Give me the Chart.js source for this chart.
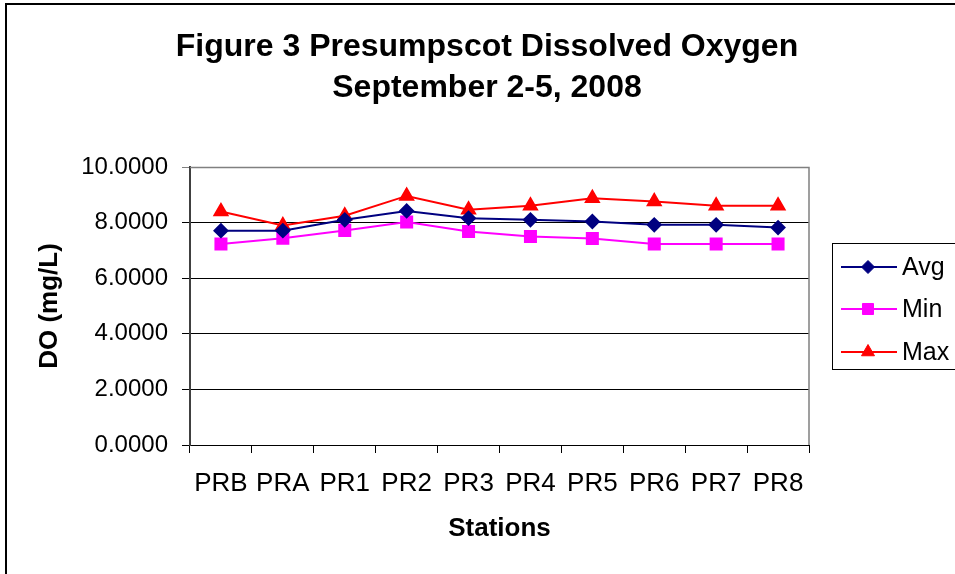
<!DOCTYPE html>
<html>
<head>
<meta charset="utf-8">
<script src="https://cdn.jsdelivr.net/npm/chart.js@4/dist/chart.umd.min.js"></script>
<style>
  html, body { margin: 0; padding: 0; background: #fff; }
  #wrap { position: relative; width: 955px; height: 574px; }
</style>
</head>
<body>
<div id="wrap"><canvas id="c" width="955" height="574"></canvas></div>
<script>
const categories = ['PRB', 'PRA', 'PR1', 'PR2', 'PR3', 'PR4', 'PR5', 'PR6', 'PR7', 'PR8'];
const avgValues = [7.71, 7.71, 8.10, 8.42, 8.16, 8.10, 8.04, 7.92, 7.92, 7.82];
const minValues = [7.23, 7.44, 7.72, 8.02, 7.68, 7.50, 7.43, 7.23, 7.23, 7.23];
const maxValues = [8.40, 7.90, 8.25, 8.96, 8.46, 8.61, 8.88, 8.76, 8.61, 8.61];
const seriesNames = ['Avg', 'Min', 'Max'];
const yTickValues = [0, 2, 4, 6, 8, 10];
const titleLines = ['Figure 3 Presumpscot Dissolved Oxygen', 'September 2-5, 2008'];
const xAxisTitle = 'Stations';
const yAxisTitle = 'DO (mg/L)';

const FONT = "'Liberation Sans', Arial, sans-serif";

const framePlugin = {
  id: 'frame',
  beforeDraw(chart) {
    const ctx = chart.ctx;
    ctx.save();
    ctx.fillStyle = '#fff';
    ctx.fillRect(0, 0, chart.width, chart.height);
    ctx.strokeStyle = '#000';
    ctx.lineWidth = 2;
    ctx.beginPath();
    ctx.moveTo(6, chart.height + 5);
    ctx.lineTo(6, 4);
    ctx.lineTo(chart.width + 5, 4);
    ctx.stroke();
    ctx.restore();
  },
  beforeDatasetsDraw(chart) {
    const a = chart.chartArea;
    const ctx = chart.ctx;
    ctx.save();
    ctx.strokeStyle = '#808080';
    ctx.lineWidth = 1.5;
    ctx.beginPath();
    ctx.moveTo(a.left, a.top + 0.5);
    ctx.lineTo(a.right, a.top + 0.5);
    ctx.lineTo(a.right, a.bottom);
    ctx.stroke();
    ctx.restore();
  },
  afterDraw(chart) {
    const ctx = chart.ctx;
    ctx.save();
    // Title
    ctx.fillStyle = '#000';
    ctx.font = 'bold 32px ' + FONT;
    ctx.textAlign = 'center';
    ctx.textBaseline = 'middle';
    ctx.fillText(titleLines[0], 487, 47);
    ctx.fillText(titleLines[1], 487, 88);
    // Legend
    const bx = 832.5, by = 243.5, bw = 130, bh = 126;
    ctx.strokeStyle = '#000';
    ctx.lineWidth = 1;
    ctx.strokeRect(bx, by, bw, bh);
    const rows = [267, 309, 352];
    chart.data.datasets.forEach((ds, i) => {
      const y = rows[i];
      ctx.strokeStyle = ds.borderColor;
      ctx.lineWidth = 2;
      ctx.beginPath();
      ctx.moveTo(841, y);
      ctx.lineTo(897, y);
      ctx.stroke();
      ctx.fillStyle = ds.pointBackgroundColor;
      ctx.strokeStyle = ds.pointBorderColor;
      ctx.lineWidth = 1;
      Chart.helpers.drawPoint(ctx, {
        pointStyle: ds.pointStyle,
        radius: ds.pointRadius,
        borderWidth: 1,
        rotation: 0
      }, 868, y);
      ctx.fillStyle = '#000';
      ctx.font = '25px ' + FONT;
      ctx.textAlign = 'left';
      ctx.textBaseline = 'middle';
      ctx.fillText(ds.label, 902, y + 1);
    });
    ctx.restore();
  }
};

function mkDs(label, data, color, style, radius) {
  return {
    label, data,
    borderColor: color,
    backgroundColor: color,
    pointBackgroundColor: color,
    pointBorderColor: color,
    pointStyle: style,
    pointRadius: radius,
    pointHoverRadius: radius,
    borderWidth: 2,
    tension: 0
  };
}

new Chart(document.getElementById('c'), {
  type: 'line',
  data: {
    labels: categories,
    datasets: [
      mkDs(seriesNames[0], avgValues, '#000080', 'rectRot', 6.5),
      mkDs(seriesNames[1], minValues, '#FF00FF', 'rect', 7.8),
      mkDs(seriesNames[2], maxValues, '#FF0000', 'triangle', 7.5)
    ]
  },
  options: {
    responsive: false,
    animation: false,
    layout: { padding: { left: 30, top: 167, right: 146, bottom: 26 } },
    plugins: {
      legend: { display: false },
      title: { display: false },
      tooltip: { enabled: false }
    },
    scales: {
      x: {
        type: 'category',
        offset: true,
        grid: {
          offset: true,
          drawOnChartArea: false,
          drawTicks: true,
          tickLength: 8,
          color: '#000',
          lineWidth: 1
        },
        border: { display: true, color: '#000', width: 1 },
        ticks: {
          color: '#000',
          font: { family: FONT, size: 26 },
          padding: 15,
          maxRotation: 0,
          autoSkip: false
        },
        title: {
          display: true,
          text: xAxisTitle,
          color: '#000',
          font: { family: FONT, size: 26, weight: 'bold' },
          padding: { top: 4, bottom: 4 }
        },
        afterFit(scale) { scale.height = 103; }
      },
      y: {
        min: 0,
        max: 10,
        afterBuildTicks(scale) { scale.ticks = yTickValues.map(v => ({ value: v })); },
        grid: {
          color: (c) => (c.tick && c.tick.value === 10) ? '#808080' : '#000',
          lineWidth: 1,
          drawTicks: true,
          tickLength: 8
        },
        border: { display: true, color: '#404040', width: 2 },
        ticks: {
          color: '#000',
          font: { family: FONT, size: 24 },
          padding: 14,
          callback: (v) => Number(v).toFixed(4)
        },
        title: {
          display: true,
          text: yAxisTitle,
          color: '#000',
          font: { family: FONT, size: 26, weight: 'bold' },
          padding: { top: 4, bottom: 4 }
        },
        afterFit(scale) { scale.width = 160; }
      }
    }
  },
  plugins: [framePlugin]
});
</script>
</body>
</html>
